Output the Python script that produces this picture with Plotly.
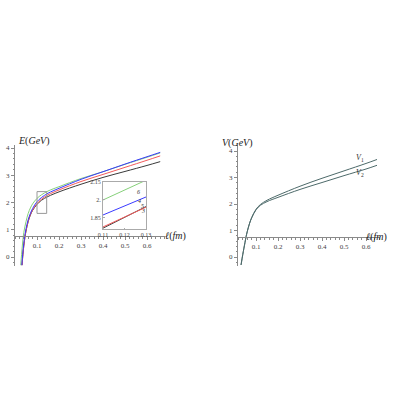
import plotly.graph_objects as go

# ---- left panel: E(l) for four cases ----
x_green = [0.026, 0.03, 0.035, 0.04, 0.05, 0.06, 0.07, 0.08, 0.1, 0.12, 0.15, 0.2, 0.3, 0.4, 0.5, 0.6, 0.66]
e_green = [-0.3, 0.1, 0.55, 0.9, 1.3, 1.6, 1.8, 1.95, 2.15, 2.28, 2.42, 2.58, 2.88, 3.13, 3.4, 3.66, 3.82]

x_blue = [0.031, 0.035, 0.04, 0.045, 0.05, 0.06, 0.07, 0.08, 0.1, 0.12, 0.15, 0.2, 0.3, 0.4, 0.5, 0.6, 0.66]
e_blue = [-0.3, 0.1, 0.5, 0.8, 1.03, 1.37, 1.6, 1.78, 2.03, 2.18, 2.34, 2.52, 2.85, 3.13, 3.41, 3.68, 3.84]

x_red = [0.032, 0.036, 0.04, 0.045, 0.05, 0.06, 0.07, 0.08, 0.1, 0.12, 0.15, 0.2, 0.3, 0.4, 0.5, 0.6, 0.66]
e_red = [-0.3, 0.1, 0.4, 0.72, 0.96, 1.32, 1.56, 1.73, 1.96, 2.12, 2.28, 2.46, 2.77, 3.03, 3.29, 3.55, 3.71]

x_black = [0.032, 0.036, 0.04, 0.045, 0.05, 0.06, 0.07, 0.08, 0.1, 0.12, 0.15, 0.2, 0.3, 0.4, 0.5, 0.6, 0.66]
e_black = [-0.3, 0.1, 0.42, 0.72, 0.95, 1.3, 1.54, 1.71, 1.93, 2.08, 2.22, 2.39, 2.67, 2.92, 3.14, 3.36, 3.5]

# ---- inset (zoom of 0.11..0.13) ----
ins_x = [0.11, 0.12, 0.13]
ins_green = [2.0, 2.08, 2.165]
ins_blue = [1.875, 1.95, 2.025]
ins_red = [1.775, 1.86, 1.94]
ins_black = [1.765, 1.855, 1.945]
ins_labels = ["6", "4", "5", "3"]

# ---- right panel: V1, V2 ----
v_x = [0.032, 0.04, 0.05, 0.055, 0.06, 0.07, 0.08, 0.1, 0.12, 0.15, 0.2, 0.3, 0.4, 0.5, 0.6, 0.65]
v1 = [-0.3, 0.1, 0.55, 0.77, 0.95, 1.25, 1.48, 1.8, 1.98, 2.14, 2.33, 2.67, 2.97, 3.25, 3.53, 3.68]
v2 = [-0.3, 0.1, 0.55, 0.77, 0.95, 1.25, 1.47, 1.78, 1.95, 2.09, 2.25, 2.55, 2.81, 3.07, 3.32, 3.46]

y_ticks = [0, 1, 2, 3, 4]
x_ticks = [0.1, 0.2, 0.3, 0.4, 0.5, 0.6]

GREEN = "#86d07a"
BLUE = "#3a3aff"
RED = "#f25a5a"
BLACK = "#3a3a3a"
VCOL = "#4d6a6a"
AXIS = "#8a8a8a"
SERIF = "Liberation Serif"

W = H = 400


def px(v):
    return v / W


def py(v):
    return 1 - v / H


fig = go.Figure()

for xs, ys, c in [(x_black, e_black, BLACK), (x_red, e_red, RED),
                  (x_green, e_green, GREEN), (x_blue, e_blue, BLUE)]:
    fig.add_trace(go.Scatter(x=xs, y=ys, mode="lines", line=dict(color=c, width=1, shape="spline"),
                             xaxis="x", yaxis="y", showlegend=False, hoverinfo="skip"))

for ys, c in [(ins_black, BLACK), (ins_red, RED), (ins_green, GREEN), (ins_blue, BLUE)]:
    fig.add_trace(go.Scatter(x=ins_x, y=ys, mode="lines", line=dict(color=c, width=1),
                             xaxis="x3", yaxis="y3", showlegend=False, hoverinfo="skip"))

for ys in [v1, v2]:
    fig.add_trace(go.Scatter(x=v_x, y=ys, mode="lines", line=dict(color=VCOL, width=1, shape="spline"),
                             xaxis="x2", yaxis="y2", showlegend=False, hoverinfo="skip"))

tickfont = dict(family=SERIF, size=7, color="#444")


def main_x(domain, rng, pos):
    return dict(domain=domain, range=rng, anchor="free", position=pos, showline=True,
                linecolor=AXIS, linewidth=1, showgrid=False, zeroline=False, automargin=False,
                tickvals=x_ticks, ticktext=[f"{t:.1f}" for t in x_ticks], ticks="outside",
                ticklen=3, tickcolor=AXIS, tickfont=tickfont,
                minor=dict(ticks="outside", ticklen=1.5, tickcolor=AXIS, dtick=0.02))


def main_y(domain, rng, anchor):
    return dict(domain=domain, range=rng, anchor=anchor, showline=True, linecolor=AXIS,
                linewidth=1, showgrid=False, zeroline=False, automargin=False, tickvals=y_ticks,
                ticks="outside", ticklen=3, tickcolor=AXIS, tickfont=tickfont,
                minor=dict(ticks="outside", ticklen=1.5, tickcolor=AXIS, dtick=0.2))


inset_font = dict(family=SERIF, size=6, color="#444")

fig.update_layout(
    width=W, height=H, margin=dict(l=0, r=0, t=0, b=0),
    paper_bgcolor="white", plot_bgcolor="rgba(0,0,0,0)",
    xaxis=main_x([px(15), px(165)], [0, 150 / 220], py(236)),
    yaxis=main_y([py(266), py(145)], [(257 - 266) / 27.25, (257 - 145) / 27.25], "x"),
    xaxis2=main_x([px(238), px(380)], [(238 - 234) / 220, (380 - 234) / 220], py(237)),
    yaxis2=main_y([py(266), py(145)], [(257 - 266) / 26.5, (257 - 145) / 26.5], "x2"),
    xaxis3=dict(domain=[px(103), px(146)], range=[0.11, 0.13], anchor="y3", showline=True,
                mirror=True, linecolor="#aaaaaa", linewidth=1, showgrid=False, zeroline=False,
                automargin=False, tickvals=[0.11, 0.12, 0.13], ticks="inside", ticklen=1.5,
                tickcolor="#aaaaaa", tickfont=inset_font),
    yaxis3=dict(domain=[py(229), py(182)], range=[1.758, 2.15], anchor="x3", showline=True,
                mirror=True, linecolor="#aaaaaa", linewidth=1, showgrid=False, zeroline=False,
                automargin=False, tickvals=[1.85, 2.0, 2.15], ticktext=["1.85", "2.", "2.15"],
                ticks="inside", ticklen=1.5, tickcolor="#aaaaaa", tickfont=inset_font),
)

# little box marking the zoomed region
fig.add_shape(type="rect", xref="x", yref="y", x0=0.1, x1=0.144, y0=1.6, y1=2.4,
              line=dict(color="#999999", width=1))

# inset curve labels
for (lx, ly), t in zip([(0.1267, 2.07), (0.1272, 1.99), (0.1286, 1.95), (0.1286, 1.905)], ins_labels):
    fig.add_annotation(x=lx, y=ly, xref="x3", yref="y3", text=f"<i>{t}</i>", showarrow=False,
                       font=dict(family=SERIF, size=6, color="#333"))

lab = dict(family=SERIF, size=10, color="#222")
fig.add_annotation(x=px(16), y=py(141), xref="paper", yref="paper", text="<i>E</i>(<i>GeV</i>)",
                   showarrow=False, font=lab)
fig.add_annotation(x=px(175), y=py(236), xref="paper", yref="paper", text="<i>ℓ</i>(<i>fm</i>)",
                   showarrow=False, font=lab)
fig.add_annotation(x=px(237), y=py(143), xref="paper", yref="paper", text="<i>V</i>(<i>GeV</i>)",
                   showarrow=False, font=lab)
fig.add_annotation(x=px(389), y=py(237), xref="paper", yref="paper", text="<i>ℓ</i>(<i>fm</i>)",
                   showarrow=False, font=lab)
fig.add_annotation(x=0.573, y=3.75, xref="x2", yref="y2", text="<i>V</i><sub>1</sub>",
                   showarrow=False, font=dict(family=SERIF, size=8, color="#333"))
fig.add_annotation(x=0.573, y=3.17, xref="x2", yref="y2", text="<i>V</i><sub>2</sub>",
                   showarrow=False, font=dict(family=SERIF, size=8, color="#333"))

# the page body has a default 8px margin; drop it so the figure fills the window
fig.write_html("out.html", config={"displayModeBar": False},
               post_script="document.body.style.margin='0';")
